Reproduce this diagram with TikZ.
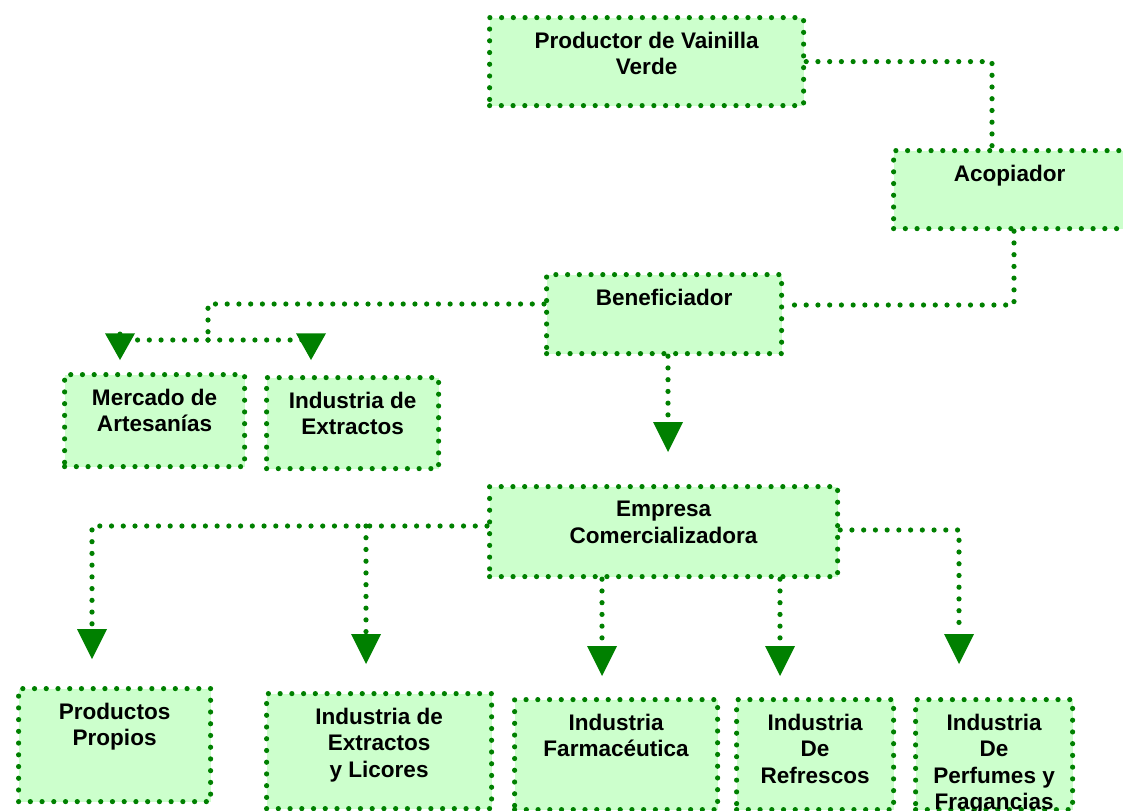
\documentclass[tikz,border=0pt]{standalone}
\usepackage{fontspec}
\setmainfont{Liberation Sans}
\usetikzlibrary{arrows.meta,calc}
\definecolor{boxfill}{HTML}{CCFFCC}
\definecolor{linegreen}{HTML}{008000}
\begin{document}
\begin{tikzpicture}[x=0.75pt,y=-0.75pt,
  dotline/.style={draw=linegreen,line width=3.9pt,line cap=round,dash pattern=on 0pt off 8.8pt},
  box/.style 2 args={dotline,fill=boxfill,inner sep=0pt,anchor=north west,
    minimum width=#1*0.75pt,minimum height=#2*0.75pt},
  caption/.style={anchor=north,inner sep=0pt,align=center,yshift=-12.9pt,
    font=\bfseries\fontsize{16.9}{19.6}\selectfont},
  flowtip/.style={-{Triangle[width=22.5pt,length=#1,line width=0pt]}},
  flowtip/.default=22.5pt]
\useasboundingbox (0,0) rectangle (1123,810);

% boxes
\node[box={314}{88}]  (prod)  at (487,15)  {};
\node[box={232}{78}]  (acop)  at (891,148) {};
\node[box={235}{79}]  (ben)   at (544,272) {};
\node[box={180}{92}]  (merc)  at (62,372)  {};
\node[box={172}{91}]  (iext)  at (264,375) {};
\node[box={348}{90}]  (emp)   at (487,484) {};
\node[box={192}{113}] (prop)  at (16,686)  {};
\node[box={225}{115}] (iextl) at (264,691) {};
\node[box={203}{110}] (farm)  at (512,697) {};
\node[box={157}{110}] (refr)  at (734,697) {};
\node[box={157}{110}] (perf)  at (913,697) {};

% captions
\node[caption] (prodT)  at (prod.north)  {Productor de Vainilla\\Verde};
\node[caption] (acopT)  at (acop.north)  {Acopiador};
\node[caption] (benT)   at (ben.north)   {Beneficiador};
\node[caption] (mercT)  at (merc.north)  {Mercado de\\Artesanías};
\node[caption] (iextT)  at (iext.north)  {Industria de\\Extractos};
\node[caption] (empT)   at (emp.north)   {Empresa\\Comercializadora};
\node[caption] (propT)  at (prop.north)  {Productos\\Propios};
\node[caption] (iextlT) at (iextl.north) {Industria de\\Extractos\\y Licores};
\node[caption] (farmT)  at (farm.north)  {Industria\\Farmacéutica};
\node[caption] (refrT)  at (refr.north)  {Industria\\De\\Refrescos};
\node[caption] (perfT)  at (perf.north)  {Industria\\De\\Perfumes y\\Fragancias};

% connectors
\draw[dotline] (prod.east) -| ($(acop.north west)+(101,0)$);
\draw[dotline] ($(acop.south west)+(123,0)$) |- ($(ben.north east)+(0,33)$);

\coordinate (bsplit) at (208,340);
\draw[dotline] ($(ben.north west)+(0,32)$) -| (bsplit);
\draw[dotline,flowtip=20pt] (bsplit) -| ($(merc.north west)+(58,-12)$);
\draw[dotline,flowtip=20pt] (bsplit) -| ($(iext.north west)+(47,-15)$);

\draw[dotline,flowtip] ($(ben.south west)+(124,0)$) -- ($(emp.north west)+(181,-32)$);

\draw[dotline,flowtip] ($(emp.north west)+(0,42)$) -| ($(prop.north west)+(76,-27)$);
\draw[dotline,flowtip] ($(emp.north west)+(-121,42)$) -- ($(iextl.north west)+(102,-27)$);
\draw[dotline,flowtip] ($(emp.south west)+(115,0)$) -- ($(farm.north west)+(90,-21)$);
\draw[dotline,flowtip] ($(emp.south west)+(293,0)$) -- ($(refr.north west)+(46,-21)$);
\draw[dotline,flowtip] ($(emp.north east)+(0,46)$) -| ($(perf.north west)+(46,-33)$);
\end{tikzpicture}
\end{document}
